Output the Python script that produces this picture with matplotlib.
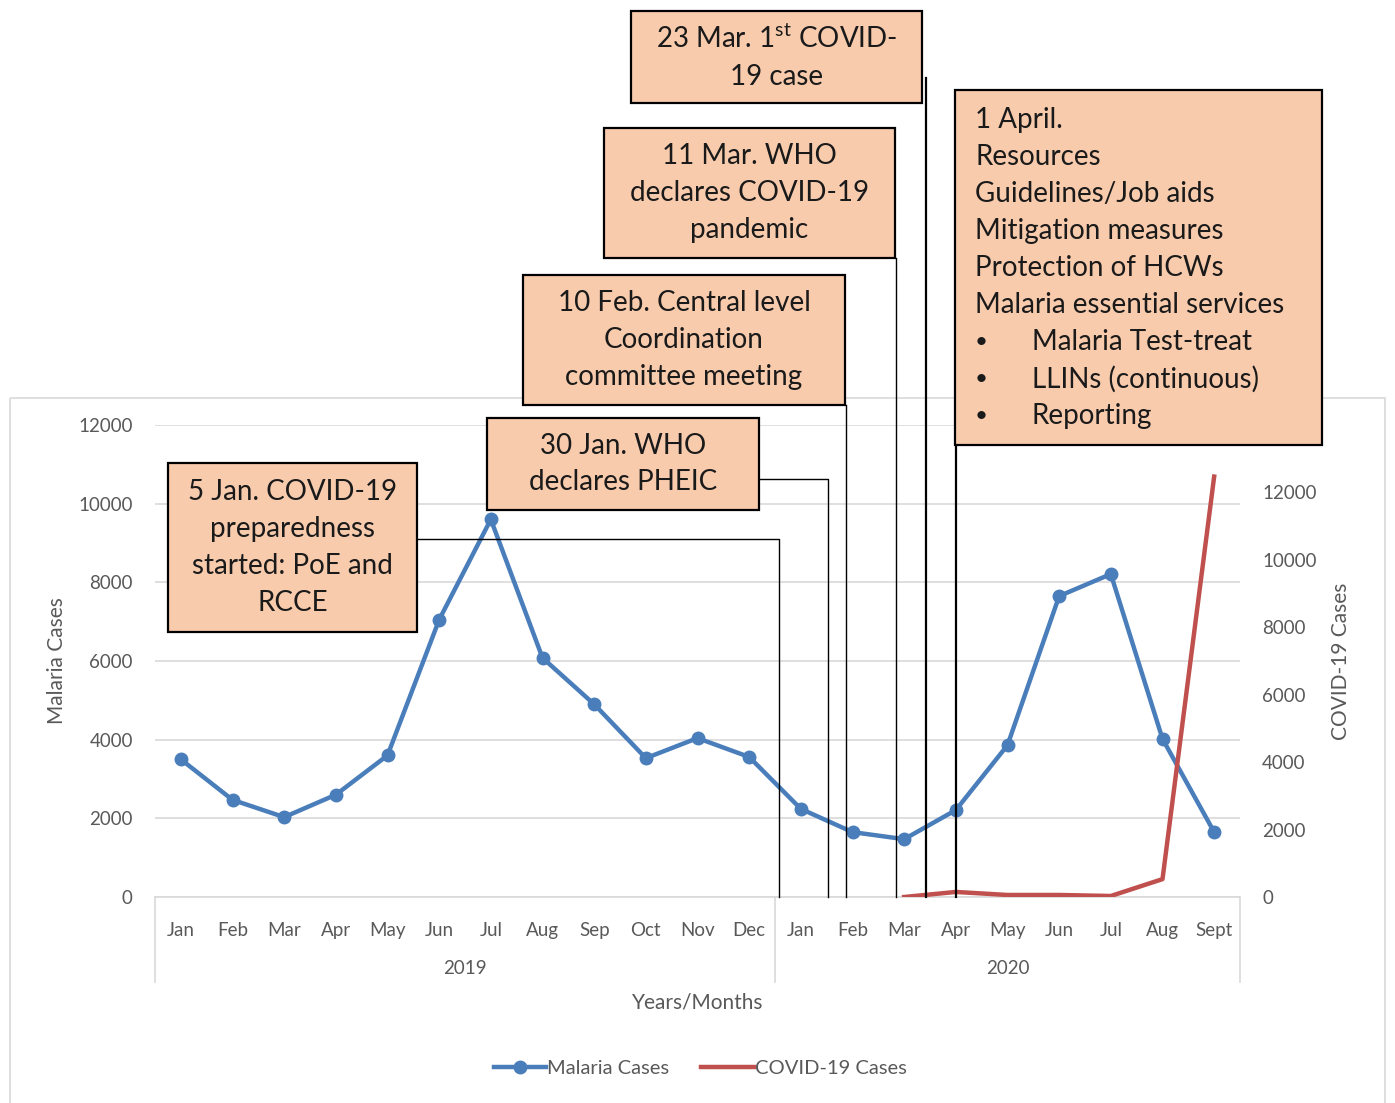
import matplotlib
matplotlib.use("Agg")
import matplotlib.pyplot as plt
import matplotlib.transforms as mtrans
from matplotlib.patches import Rectangle

plt.rcParams['font.family'] = ['Lato', 'DejaVu Sans']
plt.rcParams['mathtext.fontset'] = 'custom'
plt.rcParams['mathtext.rm'] = 'Lato'

months = ["Jan", "Feb", "Mar", "Apr", "May", "Jun", "Jul", "Aug", "Sep", "Oct", "Nov", "Dec",
          "Jan", "Feb", "Mar", "Apr", "May", "Jun", "Jul", "Aug", "Sept"]
years = ["2019", "2020"]
year_len = [12, 9]
malaria = [3500, 2470, 2030, 2600, 3600, 7050, 9600, 6080, 4900, 3530, 4040, 3560,
           2240, 1650, 1470, 2210, 3860, 7650, 8210, 4020, 1650]
covid_start = 14          # Mar 2020
covid = [0, 150, 60, 60, 30, 530, 12470]
# event dates as fractional category positions (Jan 2019 = 0)
events = [11.58, 12.52, 12.87, 13.84, 14.42, 15.0]

W, H = 1395, 1103
GRAY = "#595959"
LGRAY = "#d9d9d9"
BLUE = "#4a7ebb"
RED = "#c0504d"
PEACH = "#f8cbad"
FS_BOX = 20

fig = plt.figure(figsize=(W / 100, H / 100), dpi=100)
fig.patch.set_facecolor("white")

def fx(px): return px / W
def fy(py): return 1 - py / H

ax = fig.add_axes([fx(155), fy(897), fx(1240) - fx(155), fy(425) - fy(897)])
x = list(range(len(months)))
l1, = ax.plot(x, malaria, color=BLUE, lw=3.2, marker="o", ms=9, zorder=3, label="Malaria Cases")
ax.set_xlim(-0.5, len(months) - 0.5)
ax.set_ylim(0, 12000)
ax.set_yticks(range(0, 12001, 2000))
ax.grid(axis="y", color=LGRAY, lw=1.2)
ax.set_axisbelow(True)
for s in ["top", "left", "right"]:
    ax.spines[s].set_visible(False)
ax.spines["bottom"].set_color(LGRAY)
ax.spines["bottom"].set_linewidth(1.2)
ax.set_xticks(x)
ax.set_xticklabels(months)
ax.tick_params(axis="x", length=0, pad=18, labelsize=13.5, labelcolor=GRAY)
ax.tick_params(axis="y", length=0, pad=16, labelsize=13.5, labelcolor=GRAY)
ax.set_ylabel("Malaria Cases", fontsize=15, color=GRAY)
ax.yaxis.set_label_coords(-0.0811, 0.5)
ax.patch.set_alpha(0)

ax2 = ax.twinx()
xc = list(range(covid_start, covid_start + len(covid)))
l2, = ax2.plot(xc, covid, color=RED, lw=3.2, zorder=4, label="COVID-19 Cases")
ax2.set_ylim(0, 14000)
ax2.set_yticks(range(0, 12001, 2000))
for s in ax2.spines.values():
    s.set_visible(False)
ax2.tick_params(axis="y", length=0, pad=16, labelsize=13.5, labelcolor=GRAY)
ax2.set_ylabel("COVID-19 Cases", fontsize=15, color=GRAY)
ax2.yaxis.set_label_coords(1.0839, 0.5)

# category group separators and year labels
tr = mtrans.blended_transform_factory(ax.transData, ax.transAxes)
start = -0.5
for yr, n in zip(years, year_len):
    ax.plot([start, start], [0, -0.18], transform=tr, color=LGRAY, lw=1.2, clip_on=False)
    ax.text(start + n / 2, -0.152, yr, transform=tr, ha="center", va="center",
            fontsize=13.5, color=GRAY)
    start += n
ax.plot([start, start], [0, -0.18], transform=tr, color=LGRAY, lw=1.2, clip_on=False)
ax.text(0.5, -0.224, "Years/Months", transform=ax.transAxes, ha="center", va="center",
        fontsize=15, color=GRAY)

fig.legend([l1, l2], ["Malaria Cases", "COVID-19 Cases"], loc="center",
           bbox_to_anchor=(fx(700), fy(1068)), ncol=2, frameon=False, fontsize=14.5,
           handlelength=2.6, handletextpad=0.05, columnspacing=1.6, labelcolor=GRAY)

# overlay in pixel coordinates
ov = fig.add_axes([0, 0, 1, 1], zorder=10)
ov.set_xlim(0, W)
ov.set_ylim(H, 0)
ov.set_axis_off()

ov.add_patch(Rectangle((10, 398), 1375, 720, fill=False, edgecolor=LGRAY, lw=1.2, zorder=1))

# event x in pixels
ex = [ax.transData.transform((e, 0))[0] for e in events]
y0 = H - ax.transData.transform((0, 0))[1]

boxes = [
    (168, 463, 417, 632, "5 Jan. COVID-19\npreparedness\nstarted: PoE and\nRCCE"),
    (487, 418, 759, 510, "30 Jan. WHO\ndeclares PHEIC"),
    (523, 275, 845, 405, "10 Feb. Central level\nCoordination\ncommittee meeting"),
    (604, 128, 895, 258, "11 Mar. WHO\ndeclares COVID-19\npandemic"),
    (631, 11, 922, 103, "23 Mar. 1$^{\\mathrm{st}}$ COVID-\n19 case"),
]
for x0, yt, x1, yb, txt in boxes:
    ov.add_patch(Rectangle((x0, yt), x1 - x0, yb - yt, facecolor=PEACH, edgecolor="black",
                           lw=1.6, zorder=5))
    ov.text((x0 + x1) / 2, (yt + yb) / 2, txt, ha="center", va="center", fontsize=FS_BOX,
            linespacing=1.52, color="#1a1a1a", zorder=6)

ov.add_patch(Rectangle((955, 90), 367, 355, facecolor=PEACH, edgecolor="black", lw=1.6, zorder=5))
april = ["1 April.", "Resources", "Guidelines/Job aids", "Mitigation measures",
         "Protection of HCWs", "Malaria essential services"]
bullets = ["Malaria Test-treat", "LLINs (continuous)", "Reporting"]
for i, t in enumerate(april):
    ov.text(975, 120 + 37 * i, t, ha="left", va="center", fontsize=FS_BOX, color="#1a1a1a", zorder=6)
for j, t in enumerate(bullets):
    yy = 120 + 37 * (len(april) + j)
    ov.text(975, yy, "•", ha="left", va="center", fontsize=16, color="#1a1a1a", zorder=6)
    ov.text(1032, yy, t, ha="left", va="center", fontsize=FS_BOX, color="#1a1a1a", zorder=6)

# connectors
k = dict(color="black", lw=1.0, zorder=4)
ov.plot([417, ex[0], ex[0]], [539, 539, y0], **k)
ov.plot([759, ex[1], ex[1]], [479, 479, y0], **k)
ov.plot([ex[2], ex[2]], [405, y0], **k)
ov.plot([ex[3], ex[3]], [258, y0], **k)
ov.plot([ex[4], ex[4]], [78, y0], color="black", lw=1.6, zorder=4)
ov.plot([ex[5], ex[5]], [445, y0], color="black", lw=1.6, zorder=4)

fig.savefig("out.png", dpi=100)
